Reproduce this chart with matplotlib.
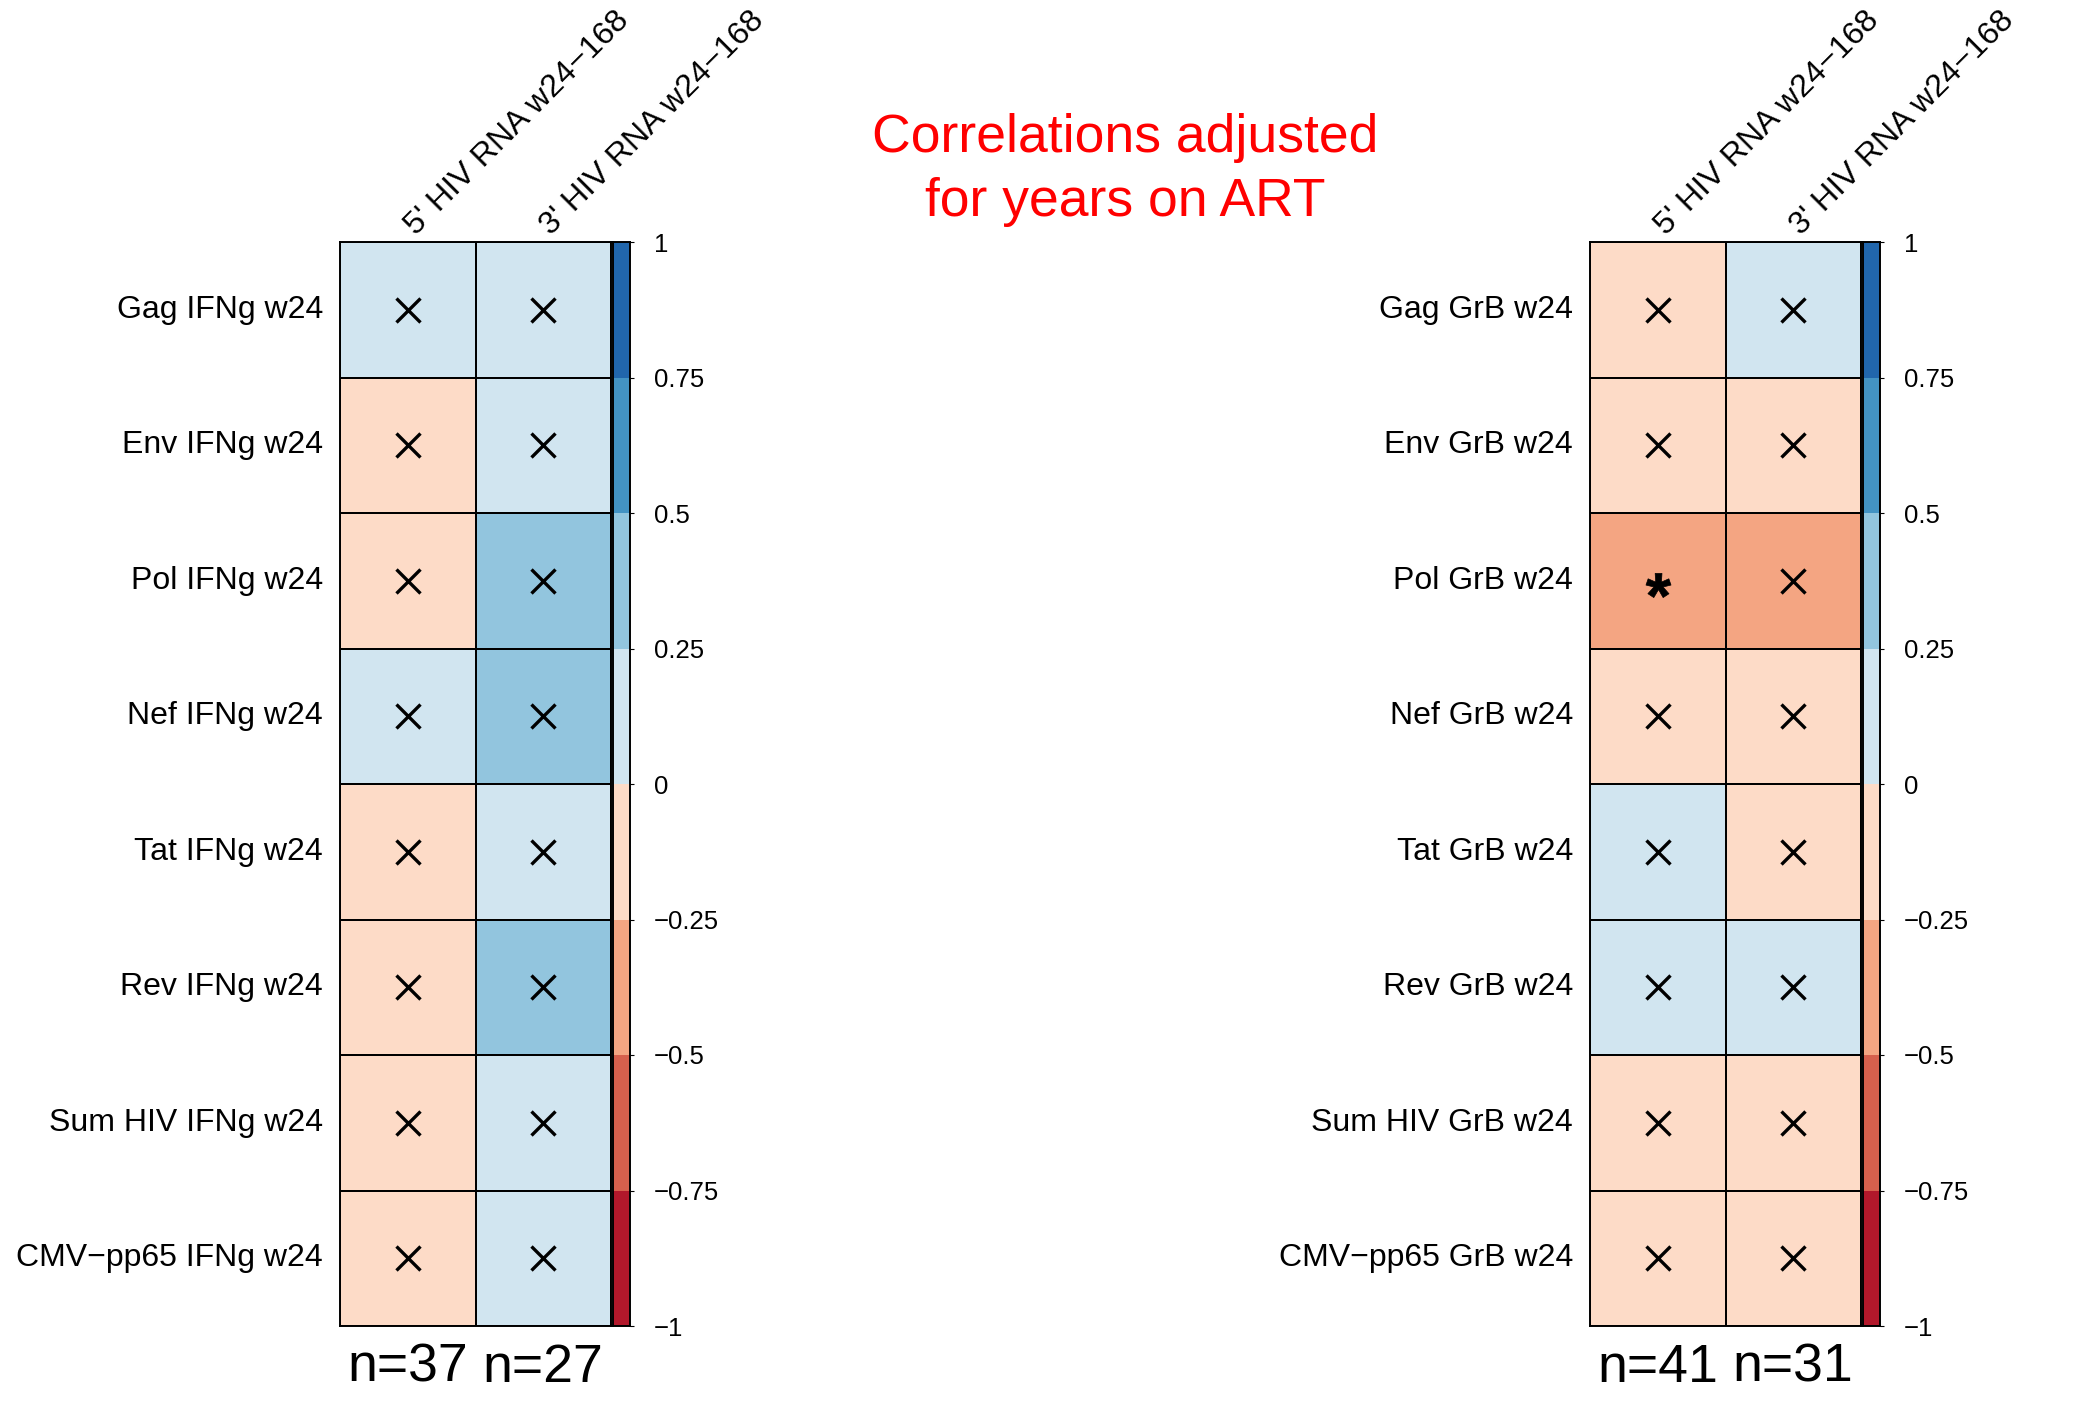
import matplotlib
matplotlib.use('Agg')
import matplotlib.pyplot as plt
import numpy as np
from matplotlib.colors import ListedColormap, BoundaryNorm
from matplotlib.textpath import TextPath
from matplotlib.font_manager import FontProperties
from matplotlib.path import Path

plt.rcParams['font.family'] = ['Liberation Sans', 'DejaVu Sans']

# correlation values (rows x [5', 3'])
col_labels = ["5' HIV RNA w24\u2212168", "3' HIV RNA w24\u2212168"]
ifng_rows = ['Gag IFNg w24', 'Env IFNg w24', 'Pol IFNg w24', 'Nef IFNg w24',
             'Tat IFNg w24', 'Rev IFNg w24', 'Sum HIV IFNg w24', 'CMV\u2212pp65 IFNg w24']
grb_rows = ['Gag GrB w24', 'Env GrB w24', 'Pol GrB w24', 'Nef GrB w24',
            'Tat GrB w24', 'Rev GrB w24', 'Sum HIV GrB w24', 'CMV\u2212pp65 GrB w24']
ifng_5p = [0.10, -0.10, -0.10, 0.10, -0.10, -0.10, -0.10, -0.10]
ifng_3p = [0.10, 0.10, 0.30, 0.30, 0.10, 0.30, 0.10, 0.10]
grb_5p = [-0.10, -0.10, -0.35, -0.10, 0.10, 0.10, -0.10, -0.10]
grb_3p = [0.10, -0.10, -0.30, -0.10, -0.10, 0.10, -0.10, -0.10]
# '*' = significant, 'x' = not significant
ifng_sig_5p = ['x'] * 8
ifng_sig_3p = ['x'] * 8
grb_sig_5p = ['x', 'x', '*', 'x', 'x', 'x', 'x', 'x']
grb_sig_3p = ['x'] * 8
ifng_n = ['n=37', 'n=27']
grb_n = ['n=41', 'n=31']

bounds = [-1, -0.75, -0.5, -0.25, 0, 0.25, 0.5, 0.75, 1]
colors = ['#B2182B', '#D6604D', '#F4A582', '#FDDBC7',
          '#D1E5F0', '#92C5DE', '#4393C3', '#2166AC']
cmap = ListedColormap(colors)
norm = BoundaryNorm(bounds, cmap.N)
tick_text = ['\u22121', '\u22120.75', '\u22120.5', '\u22120.25', '0',
             '0.25', '0.5', '0.75', '1']

W, H = 2073, 1417
fig = plt.figure(figsize=(W / 100, H / 100), dpi=100)


def px_axes(x0, y0, x1, y1):
    return fig.add_axes([x0 / W, 1 - y1 / H, (x1 - x0) / W, (y1 - y0) / H])


# asterisk marker centred on its ink (closepoly vertices moved to the centre)
tp = TextPath((0, 0), '*', prop=FontProperties(family='Liberation Sans', weight='bold'))
codes = tp.codes
v = tp.vertices.copy()
ink = codes != Path.CLOSEPOLY
ctr = (v[ink].min(axis=0) + v[ink].max(axis=0)) / 2
v -= ctr
v[~ink] = 0
star = Path(v, codes)


def heat_panel(x0, rows, c5, c3, s5, s3, nlab):
    ax = px_axes(x0, 242, x0 + 271, 1326)
    vals = np.column_stack([c5, c3])
    ax.pcolormesh(np.arange(3), np.arange(9), vals, cmap=cmap, norm=norm,
                  edgecolors='black', linewidth=1.4)
    ax.set_xlim(0, 2)
    ax.set_ylim(8, 0)
    ax.set_xticks([])
    ax.set_yticks([])
    for sp in ax.spines.values():
        sp.set_linewidth(1.4)
    for j, sig in enumerate([s5, s3]):
        for i, s in enumerate(sig):
            if s == '*':
                ax.plot(j + 0.5, i + 0.53, marker=star, ms=18, color='black',
                        mec='black', mew=0.5, ls='none')
            else:
                ax.plot(j + 0.5, i + 0.5, marker='x', ms=17, mew=2.4,
                        color='black', ls='none')
    for i, r in enumerate(rows):
        ax.text(-0.125, i + 0.5, r, ha='right', va='center', fontsize=23)
    for j, c in enumerate(col_labels):
        ax.text(j + 0.56, -0.045, c, rotation=45, rotation_mode='anchor',
                ha='left', va='baseline', fontsize=23.2)
    for j, n in enumerate(nlab):
        ax.text(j + 0.5, 8.41, n, ha='center', va='baseline', fontsize=38.5)

    cax = px_axes(x0 + 273, 242, x0 + 290, 1326)
    mids = np.array([(bounds[k] + bounds[k + 1]) / 2 for k in range(8)])
    cax.pcolormesh([0, 1], bounds, mids.reshape(-1, 1), cmap=cmap, norm=norm)
    cax.set_xlim(0, 1)
    cax.set_ylim(-1, 1)
    cax.set_xticks([])
    cax.set_yticks(bounds)
    cax.set_yticklabels(tick_text)
    cax.tick_params(axis='y', left=False, right=True, labelleft=False,
                    labelright=True, length=3, width=0.8, pad=14, labelsize=18.5)
    for sp in cax.spines.values():
        sp.set_linewidth(1.4)


heat_panel(340, ifng_rows, ifng_5p, ifng_3p, ifng_sig_5p, ifng_sig_3p, ifng_n)
heat_panel(1590, grb_rows, grb_5p, grb_3p, grb_sig_5p, grb_sig_3p, grb_n)

fig.text(1125 / W, 1 - 152 / H, 'Correlations adjusted', color='red',
         ha='center', va='baseline', fontsize=38.5)
fig.text(1125 / W, 1 - 216 / H, 'for years on ART', color='red',
         ha='center', va='baseline', fontsize=38.5)

fig.savefig('out.png', dpi=100, facecolor='white')
